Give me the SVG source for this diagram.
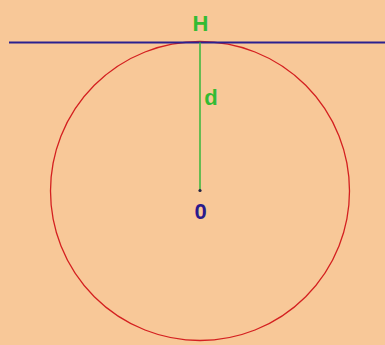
<svg xmlns="http://www.w3.org/2000/svg" width="385" height="345" viewBox="0 0 385 345">
<style>
.lbl{font-family:"Liberation Sans",Arial,sans-serif;font-weight:bold;font-size:22px;text-anchor:middle}
.g{fill:#33bb33}
.b{fill:#2a1a8c}
</style>
<rect width="385" height="345" fill="#f8c898"/>
<g id="connectors">
<circle id="circle" cx="200" cy="191" r="149.5" fill="none" stroke="#d42020" stroke-width="1.3"/>
<line id="tangent" x1="9" y1="42.5" x2="385" y2="42.5" stroke="#2a2090" stroke-width="1.8"/>
<line id="radius" x1="200" y1="42.5" x2="200" y2="190" stroke="#40b840" stroke-width="1.6"/>
</g>
<g id="H"><text class="lbl g" x="200.5" y="30.5">H</text></g>
<g id="d"><text class="lbl g" x="211" y="105">d</text></g>
<g id="O"><circle cx="200" cy="190.5" r="1.6" fill="#222244"/><text class="lbl b" x="200.5" y="219">0</text></g>
</svg>
